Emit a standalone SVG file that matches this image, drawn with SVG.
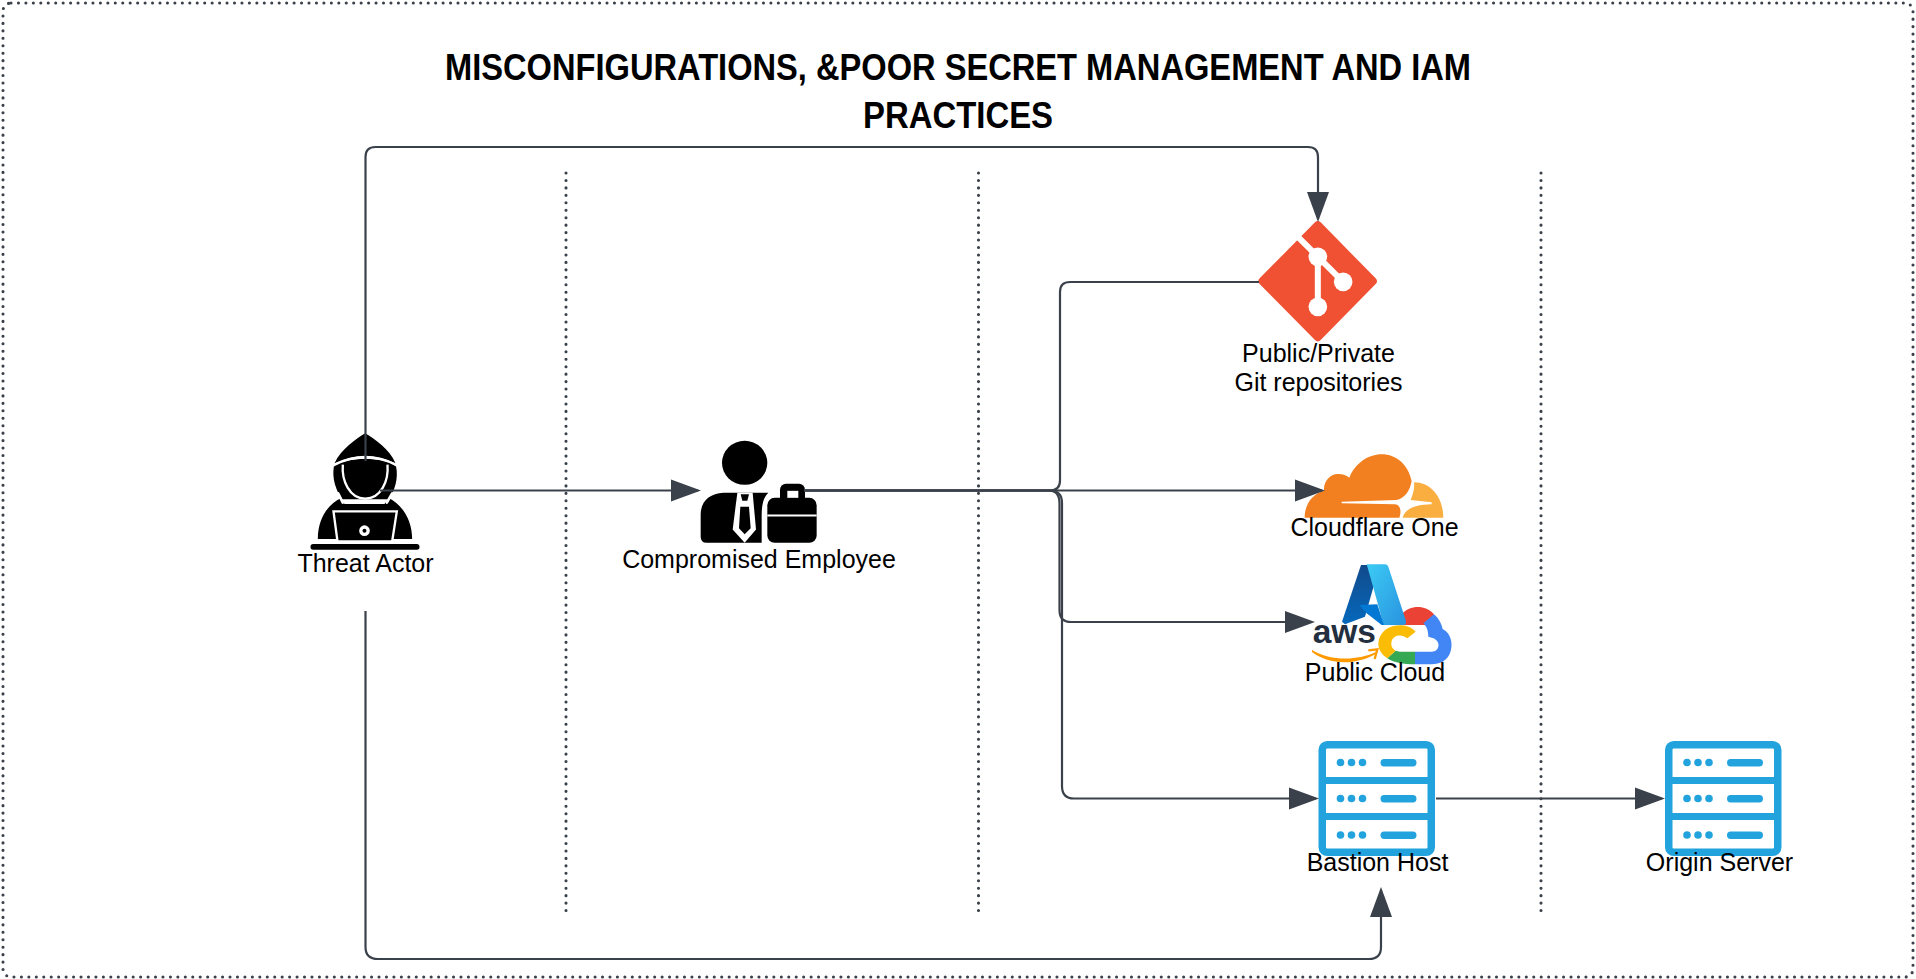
<svg xmlns="http://www.w3.org/2000/svg" width="1916" height="979" viewBox="0 0 1916 979">
<style>
text{font-family:"Liberation Sans",Arial,sans-serif;fill:#000}
.lb{font-size:25px;text-anchor:middle}
.title{font-size:37px;font-weight:bold;text-anchor:middle}
.dot{fill:none;stroke:#3a414a;stroke-width:3.1;stroke-linecap:round;stroke-dasharray:0 7.45}
.c{fill:none;stroke:#3a414a;stroke-width:2.2}
.a{marker-end:url(#arr)}
.wl{fill:none;stroke:#fff}
.srv-f{fill:#22a3dd}
</style>
<defs>
<marker id="arr" markerUnits="userSpaceOnUse" markerWidth="31" markerHeight="23" refX="27" refY="11.5" orient="auto"><path d="M0,0.500 L30,11.500 L0,22.500Z" fill="#3a414a"/></marker>
<linearGradient id="az1" x1="0" y1="0" x2="0" y2="1"><stop offset="0" stop-color="#114a8b"/><stop offset="1" stop-color="#0669bc"/></linearGradient>
<linearGradient id="az2" x1="0" y1="0" x2="1" y2="1"><stop offset="0" stop-color="#3ccbf4"/><stop offset="1" stop-color="#2892df"/></linearGradient>
<g id="server">
<rect x="3.750" y="3.750" width="109" height="107.500" rx="5" fill="#fff" stroke="#22a3dd" stroke-width="7.500"/>
<path class="srv-f" d="M3,36h110v7H3zM3,72h110v7H3z"/>
<g class="srv-f">
<circle cx="22" cy="21.500" r="3.800"/><circle cx="33" cy="21.500" r="3.800"/><circle cx="44" cy="21.500" r="3.800"/><rect x="62" y="18" width="36" height="7.500" rx="3.700"/>
<circle cx="22" cy="57.500" r="3.800"/><circle cx="33" cy="57.500" r="3.800"/><circle cx="44" cy="57.500" r="3.800"/><rect x="62" y="54" width="36" height="7.500" rx="3.700"/>
<circle cx="22" cy="94" r="3.800"/><circle cx="33" cy="94" r="3.800"/><circle cx="44" cy="94" r="3.800"/><rect x="62" y="90.500" width="36" height="7.500" rx="3.700"/>
</g>
</g>
</defs>
<rect id="frame" x="3" y="3" width="1910" height="974" rx="8" class="dot"/>
<g id="title">
<text class="title" x="958" y="80" textLength="1026" lengthAdjust="spacingAndGlyphs">MISCONFIGURATIONS, &amp;POOR SECRET MANAGEMENT AND IAM</text>
<text class="title" x="958" y="128" textLength="190" lengthAdjust="spacingAndGlyphs">PRACTICES</text>
</g>
<g id="dividers">
<path class="dot" d="M566,173V915"/>
<path class="dot" d="M978.500,173V915"/>
<path class="dot" d="M1541,173V915"/>
</g>
<g id="threat-actor">
<g transform="translate(299.500,424) scale(.3333)">
<path d="M197,28C170,45 125,75 105,118Q150,95 197,95Q245,95 288,118C270,75 225,45 197,28Z"/>
<path d="M103,128C118,112 160,105 197,105C235,105 275,112 290,128C297,165 285,200 268,226L128,226C110,200 97,165 103,128Z"/>
<path class="wl" stroke-width="7" d="M106,122Q150,100 197,100Q245,100 288,122"/>
<path class="wl" stroke-width="7" d="M130,122C126,170 150,224 197,224C245,224 268,170 264,122"/>
<path d="M125,222C85,240 55,285 55,345L338,345C338,285 305,240 268,222L255,240L135,240Z"/>
<path class="wl" stroke-width="8" stroke-linecap="round" d="M116,208L130,236M278,208L262,236"/>
<path d="M102,262H292L278,352H114Z" stroke="#fff" stroke-width="7"/>
<circle cx="195" cy="320" r="11" fill="#000" stroke="#fff" stroke-width="10"/>
<rect x="33" y="360" width="327" height="17" rx="8"/>
</g>
<text class="lb" x="365.500" y="572">Threat Actor</text>
</g>
<g id="compromised-employee">
<g transform="translate(690,429.500) scale(.3333)">
<ellipse cx="164" cy="100" rx="68" ry="66"/>
<path d="M50,340Q32,340 32,322L32,255C32,215 60,192 100,190L235,190C220,205 215,225 215,260L215,340Z"/>
<path fill="#fff" d="M142,190H188L198,300L164,340L128,300Z"/>
<path d="M152,194H177L172,214H157Z"/>
<path d="M151,232H177L182,296L164,314L147,296Z"/>
<rect x="232" y="205" width="148" height="135" rx="22"/>
<rect x="270" y="163" width="75" height="60" rx="18"/>
<rect x="292" y="184" width="33" height="21" fill="#fff"/>
<rect x="232" y="255" width="148" height="6" fill="#fff"/>
</g>
<text class="lb" x="759" y="568">Compromised Employee</text>
</g>
<g id="git-repositories">
<g transform="translate(1219.500,199.500) scale(.3333)">
<path d="M295,77L460,245L295,413L129,245Z" fill="#f05133" stroke="#f05133" stroke-width="24" stroke-linejoin="round"/>
<path class="wl" stroke-width="18" d="M233,110L371,247M295,172V322"/>
<circle cx="295" cy="172" r="28" fill="#fff"/><circle cx="371" cy="247" r="28" fill="#fff"/><circle cx="295" cy="322" r="28" fill="#fff"/>
</g>
<text class="lb" x="1318.500" y="361.500">Public/Private</text>
<text class="lb" x="1318.500" y="391">Git repositories</text>
</g>
<g id="cloudflare-one">
<g transform="translate(1300,445) scale(.3333)">
<path fill="#f38020" d="M14,218C14,175 40,145 72,137C70,105 95,85 115,87C130,87 140,92 148,98C165,55 205,28 245,28C290,28 325,60 335,108C330,135 318,158 290,165L125,170V175L285,178C302,180 305,200 298,218Z"/>
<path fill="#faae40" d="M342,112C395,112 430,160 430,218H308C315,195 335,180 395,178V172L332,165C338,150 345,130 342,112Z"/>
</g>
<text class="lb" x="1374.500" y="536">Cloudflare One</text>
</g>
<g id="public-cloud">
<g transform="translate(1300,555) scale(.3333)">
<path fill="#ea4335" d="M305,178C330,150 375,148 402,178L378,210L310,210Z"/>
<path fill="#4285f4" d="M402,178C418,192 425,208 428,222C455,235 460,270 450,295C440,318 420,328 395,328H345V290H395C420,290 425,255 395,248L385,245C385,225 378,212 370,205Z"/>
<path fill="#34a853" d="M262,310C280,323 310,328 345,328V290H300L287,287Z"/>
<path fill="#fbbc05" d="M347,230C330,210 300,208 280,213C250,220 235,245 235,268C235,285 248,302 262,310L287,287C275,280 272,270 275,258C280,240 305,235 322,250Z"/>
<path fill="url(#az1)" d="M183,30H212L222,90L195,185L135,208L126,200Z"/>
<path fill="url(#az2)" d="M200,28H255Q262,28 265,35L318,198Q320,210 308,210H250L240,170L222,105Z"/>
<path fill="#0078d4" d="M178,150L232,148L252,210H245L200,175Z"/>
<text x="38" y="264" font-size="102" font-weight="bold" textLength="190" lengthAdjust="spacingAndGlyphs" style="fill:#232f3e">aws</text>
<path fill="#f90" d="M36,285C90,318 170,318 226,292L228,296C170,330 90,332 36,291Z"/>
<path fill="none" stroke="#f90" stroke-width="7" d="M205,286L232,283L224,312"/>
</g>
<text class="lb" x="1375" y="681">Public Cloud</text>
</g>
<g id="bastion-host">
<use href="#server" x="1318.500" y="741"/>
<text class="lb" x="1377.500" y="871">Bastion Host</text>
</g>
<g id="origin-server">
<use href="#server" x="1665" y="741"/>
<text class="lb" x="1719.500" y="871">Origin Server</text>
</g>
<g id="connectors">
<path class="c a" d="M365.500,461V157Q365.500,147 375.500,147H1308Q1318,147 1318,157V219"/>
<path class="c a" d="M380,490.500H698"/>
<path class="c" d="M804,490.500H1050Q1060,490.500 1060,480.500V292Q1060,282 1070,282H1259"/>
<path class="c a" d="M804,490.500H1322"/>
<path class="c a" d="M804,490.500H1048Q1059.500,490.500 1059.500,503V610Q1059.500,622 1071,622H1312"/>
<path class="c a" d="M804,490.500H1050Q1062,490.500 1062,503V786Q1062,798.500 1074,798.500H1316"/>
<path class="c a" d="M1436,798.500H1662"/>
<path class="c a" d="M365.500,611V947Q365.500,959 378,959H1369Q1381,959 1381,947V890"/>
</g>
</svg>
